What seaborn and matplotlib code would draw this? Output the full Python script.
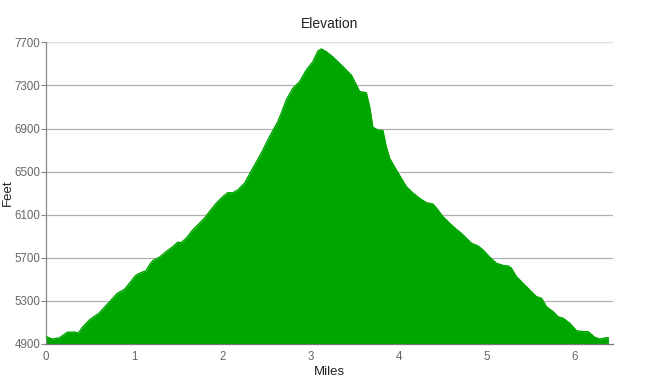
import numpy as np
import pandas as pd
import matplotlib
matplotlib.use("Agg")
import matplotlib.pyplot as plt
import seaborn as sns

# distance along the trail (miles) and elevation (feet)
miles = [0.000, 0.072, 0.151, 0.242, 0.321, 0.367, 0.412, 0.492, 0.605, 0.719,
         0.810, 0.889, 0.946, 1.022, 1.079, 1.136, 1.173, 1.211, 1.287, 1.363,
         1.438, 1.495, 1.533, 1.590, 1.665, 1.741, 1.798, 1.855, 1.931, 2.006,
         2.062, 2.119, 2.176, 2.252, 2.346, 2.442, 2.536, 2.630, 2.669, 2.726,
         2.801, 2.877, 2.953, 3.028, 3.085, 3.123, 3.180, 3.255, 3.369, 3.467,
         3.521, 3.558, 3.634, 3.672, 3.709, 3.766, 3.823, 3.861, 3.899, 3.975,
         4.089, 4.163, 4.239, 4.316, 4.391, 4.447, 4.504, 4.580, 4.656, 4.713,
         4.770, 4.827, 4.902, 4.959, 5.035, 5.111, 5.186, 5.243, 5.281, 5.338,
         5.413, 5.489, 5.565, 5.622, 5.679, 5.754, 5.810, 5.867, 5.943, 6.019,
         6.094, 6.151, 6.227, 6.283, 6.359, 6.382]
feet = [4968, 4946, 4956, 5009, 5011, 5002, 5053, 5123, 5188, 5290,
        5371, 5406, 5463, 5540, 5562, 5580, 5633, 5673, 5705, 5757,
        5803, 5844, 5840, 5881, 5958, 6020, 6067, 6128, 6206, 6267,
        6304, 6304, 6329, 6391, 6531, 6670, 6824, 6963, 7041, 7165,
        7273, 7334, 7443, 7520, 7619, 7638, 7613, 7564, 7474, 7392,
        7304, 7243, 7232, 7102, 6911, 6886, 6880, 6731, 6623, 6515,
        6360, 6301, 6252, 6211, 6199, 6144, 6081, 6020, 5964, 5927,
        5881, 5835, 5810, 5772, 5705, 5649, 5629, 5624, 5603, 5525,
        5463, 5401, 5339, 5324, 5246, 5200, 5153, 5139, 5092, 5023,
        5014, 5014, 4962, 4946, 4958, 4958]

y_ticks = [4900, 5300, 5700, 6100, 6500, 6900, 7300, 7700]
x_ticks = [0, 1, 2, 3, 4, 5, 6]

green = "#00a600"

sns.set_style("white")
plt.rcParams['font.family'] = ['Liberation Sans', 'DejaVu Sans']

df = pd.DataFrame({'Miles': miles, 'Feet': feet})

fig = plt.figure(figsize=(6.48, 3.9), dpi=100)
ax = fig.add_axes([0.071, 0.118, 0.8745, 0.7735])

for t in y_ticks[1:-1]:
    ax.axhline(t, color='#b0b0b0', lw=0.9, zorder=0)
ax.axhline(y_ticks[-1], color='#dcdcdc', lw=0.9, zorder=0)

ax.fill_between(df['Miles'], df['Feet'], y_ticks[0], color=green, lw=0, zorder=2)
sns.lineplot(data=df, x='Miles', y='Feet', color=green, lw=1.0, ax=ax, zorder=3)

ax.set_xlim(0, 6.43)
ax.set_ylim(y_ticks[0], y_ticks[-1])
ax.set_xticks(x_ticks)
ax.set_yticks(y_ticks)

for s in ['top', 'right']:
    ax.spines[s].set_visible(False)
ax.spines['left'].set_color('#888888')
ax.spines['bottom'].set_color('#777777')
ax.spines['left'].set_linewidth(0.9)
ax.spines['bottom'].set_linewidth(0.9)

ax.tick_params(axis='y', length=3.6, width=0.8, color='#888888', colors='#666666',
               labelsize=8.3, pad=0.5, left=True)
ax.tick_params(axis='x', length=0, colors='#666666', labelsize=8.3, pad=5, bottom=True)

ax.set_xlabel('Miles', fontsize=9.5, color='#222222')
ax.set_ylabel('Feet', fontsize=9.5, color='#222222')
ax.xaxis.set_label_coords(0.5, -0.072)
ax.yaxis.set_label_coords(-0.056, 0.5)
ax.set_title('Elevation', fontsize=10, color='#222222', pad=10)

plt.savefig('out.png', dpi=100)
plt.close()
